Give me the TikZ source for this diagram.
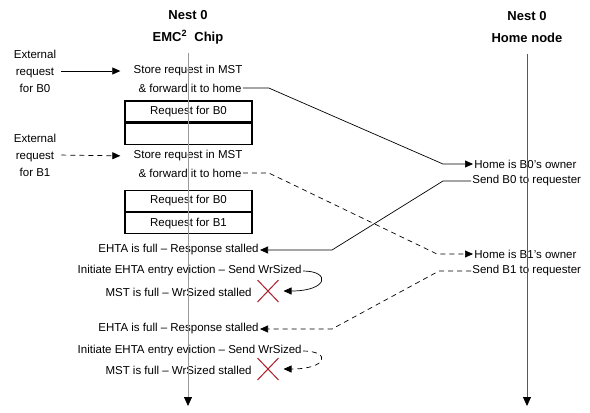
\documentclass[tikz,border=0pt]{standalone}
\usepackage{fontspec}
\setmainfont{Liberation Sans}
\usetikzlibrary{arrows.meta,positioning,shapes.misc}
\definecolor{stallred}{RGB}{175,30,40}

\tikzset{
	txt/.style={font=\fontsize{11.5}{17}\selectfont, inner sep=1pt, align=center},
	head/.style={font=\bfseries\fontsize{13}{22}\selectfont, align=center},
	cell/.style={draw, line width=1.3pt, minimum width=127pt, minimum height=21pt, inner sep=0pt, font=\fontsize{11.5}{17}\selectfont},
	lifeline/.style={line width=0.8pt, -{Triangle[length=9pt,width=8pt,color=black]}},
	cross/.style={cross out, draw=stallred, line width=1pt, minimum width=20pt, minimum height=21pt, inner sep=0pt},
	req/.style={->, shorten <=4pt, shorten >=12pt},
	later/.style={dash pattern=on 5pt off 4pt}
}

\begin{document}
\begin{tikzpicture}[x=1pt,y=-1pt,>={Triangle[length=8pt,width=7pt]},line width=0.7pt]
		\useasboundingbox (0,0) rectangle (590,413);

		% lifelines
		\node[head] (chip) at (188,27) {Nest 0\\EMC\textsuperscript{2}\ \ Chip};
		\node[head] (home) at (527,27) {Nest 0\\Home node};

		% request for B0
		\node[txt] (extA) at (35,71) {External\\request\\for B0};
		\node[txt] (storeA) at (188,71) {Store request in MST};
		\node[txt] (fwdA) at (190,88) {\& forward it to home};
		\node[cell] (boxA1) at (188.5,111.5) {Request for B0};
		\node[cell, below=0pt of boxA1] (boxA2) {};

		% request for B1
		\node[txt] (extB) at (35,155) {External\\request\\for B1};
		\node[txt] (storeB) at (188,156) {Store request in MST};
		\node[txt] (fwdB) at (190,173) {\& forward it to home};
		\node[cell] (boxB1) at (188.5,201) {Request for B0};
		\node[cell, below=0pt of boxB1] (boxB2) {Request for B1};

		% home node
		\node[txt, anchor=west] (ownA) at (473,164) {Home is B0's owner};
		\node[txt, anchor=west] (sendA) at (471,181) {Send B0 to requester};
		\node[txt, anchor=west] (ownB) at (473,254) {Home is B1's owner};
		\node[txt, anchor=west] (sendB) at (471,271) {Send B1 to requester};

		% stalls
		\node[txt, anchor=east] (ehtaA) at (260,250) {EHTA is full -- Response stalled};
		\node[txt, anchor=east] (initA) at (303,271) {Initiate EHTA entry eviction -- Send WrSized};
		\node[txt, anchor=east] (mstA) at (253,292) {MST is full -- WrSized stalled};
		\node[cross] (xA) at (268,291) {};

		\node[txt, anchor=east] (ehtaB) at (260,329) {EHTA is full -- Response stalled};
		\node[txt, anchor=east] (initB) at (303,351) {Initiate EHTA entry eviction -- Send WrSized};
		\node[txt, anchor=east] (mstB) at (253,370) {MST is full -- WrSized stalled};
		\node[cross] (xB) at (268,369) {};

		\coordinate (chipEnd) at (188,406);
		\coordinate (homeEnd) at (527,406);
		\draw[lifeline, draw=black!40, shorten <=5pt] (chip.south) -- (chipEnd);
		\draw[lifeline, draw=black!65, shorten <=8pt] (home.south) -- (homeEnd);

		\draw[req] (extA.east) -- (storeA.west);
		\draw[req, later] (extB.east) -- (storeB.west);

		\draw[->] (fwdA.east) -- ++(26,0) -- ([xshift=-30pt]ownA.west) -- (ownA.west);
		\draw[->] (sendA.west) -- ++(-28,0) -- ([xshift=72pt]ehtaA.east) -- (ehtaA.east);
		\draw[->, shorten >=5pt] (initA.east) .. controls +(28,0) and +(50,0) .. (xA.east);

		\draw[->, later] (fwdB.east) -- ++(26,0) -- ([xshift=-36pt]ownB.west) -- (ownB.west);
		\draw[->, later] (sendB.west) -- ++(-32,0) -- ([xshift=72pt]ehtaB.east) -- (ehtaB.east);
		\draw[->, later, shorten >=5pt] (initB.east) .. controls +(28,0) and +(50,0) .. (xB.east);
\end{tikzpicture}
\end{document}
